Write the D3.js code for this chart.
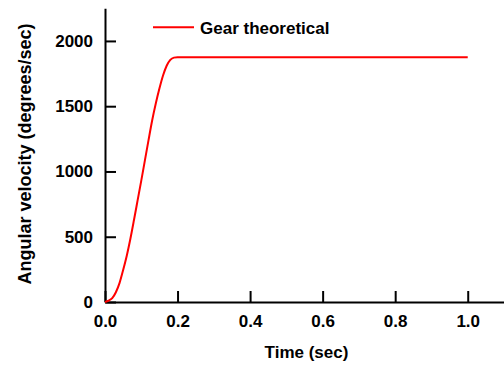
<!DOCTYPE html>
<html>
<head>
<meta charset="utf-8">
<script src="https://cdn.jsdelivr.net/npm/d3@7"></script>
<style>
  html, body { margin: 0; padding: 0; background: #fff; }
  svg { display: block; font-family: "Liberation Sans", Arial, sans-serif; font-weight: bold; }
</style>
</head>
<body>
<svg id="chart" width="504" height="366"></svg>
<script>
// Gear angular velocity over time (theoretical profile)
const timeSec = [0, 0.01, 0.02, 0.03, 0.04, 0.05, 0.06, 0.07, 0.08, 0.09, 0.10,
                 0.11, 0.12, 0.13, 0.14, 0.15, 0.16, 0.17, 0.18, 0.19, 0.20, 1.0];
const velocity = [0, 10, 30, 75, 145, 245, 355, 485, 630, 780, 930,
                  1085, 1240, 1390, 1520, 1635, 1735, 1810, 1855, 1872, 1875, 1875];
const xTicks = [0, 0.2, 0.4, 0.6, 0.8, 1.0];
const yTicks = [0, 500, 1000, 1500, 2000];
const seriesName = "Gear theoretical";
const xTitle = "Time (sec)";
const yTitle = "Angular velocity (degrees/sec)";

const svg = d3.select("#chart");
const x = d3.scaleLinear().domain([0, 1.1]).range([105, 504]);
const y = d3.scaleLinear().domain([0, 2250]).range([302, 8.3]);

const data = timeSec.map((t, i) => ({ t, v: velocity[i] }));

// axes with inward ticks
const xAxis = svg.append("g")
  .attr("transform", `translate(0,${y(0)})`)
  .call(d3.axisBottom(x).tickValues(xTicks).tickFormat(d3.format(".1f"))
    .tickSizeInner(-11).tickSizeOuter(0).tickPadding(13));
const yAxis = svg.append("g")
  .attr("transform", `translate(${x(0)},0)`)
  .call(d3.axisLeft(y).tickValues(yTicks).tickFormat(d3.format("d"))
    .tickSizeInner(-11).tickSizeOuter(0).tickPadding(12));

[xAxis, yAxis].forEach(g => {
  g.select(".domain").attr("stroke", "#000").attr("stroke-width", 2);
  g.selectAll(".tick line").attr("stroke", "#000").attr("stroke-width", 2);
  g.selectAll(".tick text").attr("fill", "#000")
    .style("font-size", "17px").style("font-weight", "bold")
    .style("font-family", "'Liberation Sans', Arial, sans-serif");
});

// series line
const line = d3.line().x(d => x(d.t)).y(d => y(d.v)).curve(d3.curveMonotoneX);
svg.append("path").datum(data)
  .attr("fill", "none").attr("stroke", "#ff0000").attr("stroke-width", 2)
  .attr("d", line);

// legend
svg.append("line")
  .attr("x1", 153).attr("x2", 194).attr("y1", 27.3).attr("y2", 27.3)
  .attr("stroke", "#ff0000").attr("stroke-width", 2);
svg.append("text").attr("x", 200).attr("y", 33.5)
  .style("font-size", "17px").attr("fill", "#000").text(seriesName);

// axis titles
svg.append("text").attr("x", 306.5).attr("y", 358)
  .attr("text-anchor", "middle").style("font-size", "17px").attr("fill", "#000")
  .text(xTitle);
svg.append("text")
  .attr("transform", "translate(31,154) rotate(-90)")
  .attr("text-anchor", "middle").style("font-size", "18px").attr("fill", "#000")
  .text(yTitle);
</script>
</body>
</html>
